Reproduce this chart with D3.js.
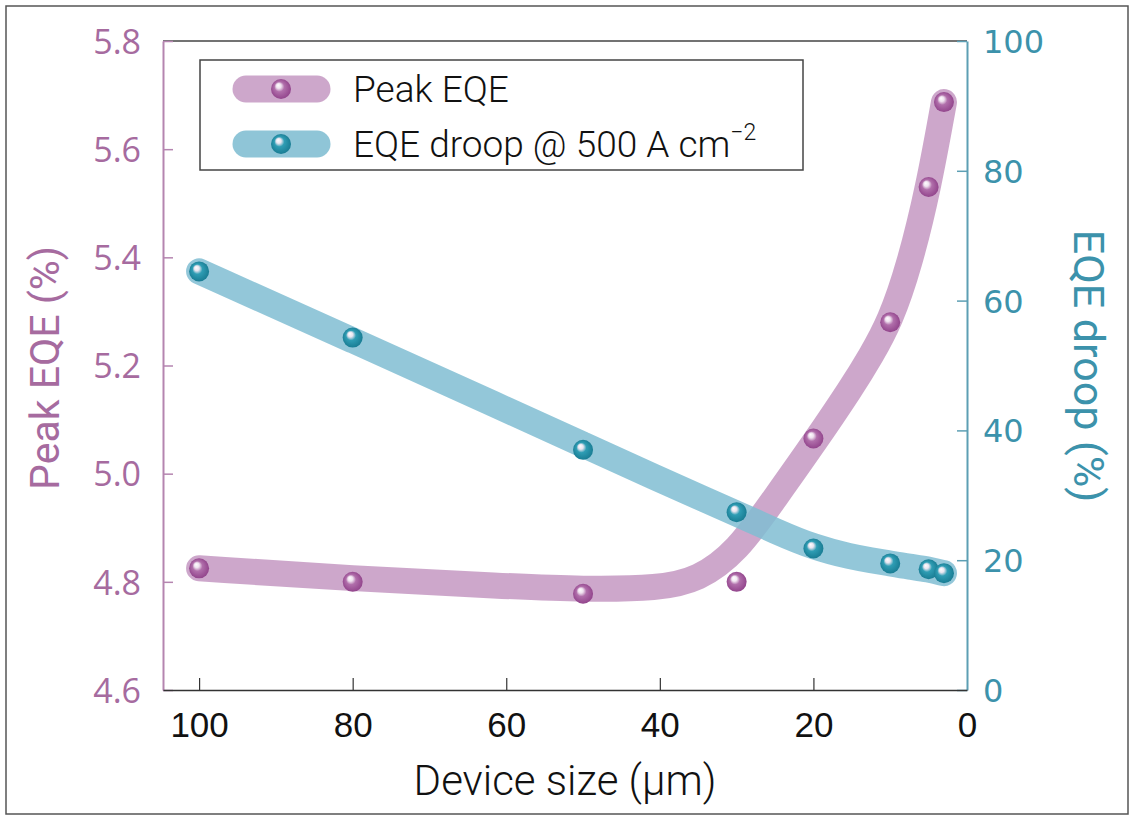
<!DOCTYPE html>
<html>
<head>
<meta charset="utf-8">
<script src="https://cdn.jsdelivr.net/npm/d3@7"></script>
<style>
  body { margin: 0; background: #fff; }
  svg { display: block; font-family: Roboto, "Liberation Sans", sans-serif; }
</style>
</head>
<body>
<svg id="chart"></svg>
<script>
const width = 1134
const height = 819

const marginTop = 41
const marginRight = 168
const marginLeft = 163
const marginBottom = 129

const purpleText = "#a66b9f"
const tealText = "#3c92ab"

// measured points
const sizes = [100, 80, 50, 30, 20, 10, 5, 3]
const peakEQE = [4.825, 4.80, 4.778, 4.80, 5.065, 5.28, 5.53, 5.687]
const eqeDroop = [64.5, 54.3, 37.0, 27.4, 21.8, 19.5, 18.6, 18.0]

// fitted guide bands
const fitSizes = [100, 80, 60, 50, 40, 35, 30, 25, 20, 15, 12.5, 10, 7.5, 5, 3]
const peakFit = [4.825, 4.806, 4.792, 4.786, 4.788, 4.804, 4.855, 4.955, 5.055, 5.16, 5.218, 5.282, 5.385, 5.53, 5.687]
const droopFit = [64.5, 53.9, 43.2, 37.8, 32.4, 29.8, 27.2, 24.5, 22.0, 20.5, 20.0, 19.5, 19.0, 18.6, 18.0]

const xTicks = [100, 80, 60, 40, 20, 0]
const leftTicks = [4.6, 4.8, 5.0, 5.2, 5.4, 5.6, 5.8]
const rightTicks = [0, 20, 40, 60, 80, 100]

const svg = d3.select("#chart")
  .attr("width", width)
  .attr("height", height)

// outer frame
svg.append("rect")
  .attr("x", 6).attr("y", 6)
  .attr("width", 1122).attr("height", 808)
  .attr("fill", "none")
  .attr("stroke", "#555")
  .attr("stroke-width", 1.5)

const defs = svg.append("defs")
function ballGradient(id, base, dark) {
  const g = defs.append("radialGradient")
    .attr("id", id)
    .attr("cx", "50%").attr("cy", "50%").attr("r", "55%")
    .attr("fx", "35%").attr("fy", "30%")
  g.append("stop").attr("offset", "0%").attr("stop-color", "#ffffff")
  g.append("stop").attr("offset", "22%").attr("stop-color", "#f3e9f3").attr("stop-opacity", 0.9)
  g.append("stop").attr("offset", "45%").attr("stop-color", base)
  g.append("stop").attr("offset", "100%").attr("stop-color", dark)
}
ballGradient("ballPurple", "#b16fab", "#8e3f88")
ballGradient("ballTeal", "#2f9db4", "#16788f")

const x = d3.scaleLinear()
  .domain([104.7, 0])
  .range([marginLeft, width - marginRight + 1])

const yLeft = d3.scaleLinear()
  .domain([4.6, 5.8])
  .range([height - marginBottom, marginTop])

const yRight = d3.scaleLinear()
  .domain([0, 100])
  .range([height - marginBottom, marginTop])

// top frame line
svg.append("line")
  .attr("x1", marginLeft).attr("x2", width - marginRight + 1)
  .attr("y1", marginTop).attr("y2", marginTop)
  .attr("stroke", "#444")
  .attr("stroke-width", 1.5)

// left axis
const leftAxis = svg.append("g")
  .attr("transform", `translate(${marginLeft},0)`)
  .call(d3.axisLeft(yLeft).tickValues(leftTicks).tickFormat(d3.format(".1f")).tickSize(-10).tickSizeOuter(0).tickPadding(22))
leftAxis.select(".domain").attr("stroke", "#b585b0").attr("stroke-width", 2)
leftAxis.selectAll(".tick line").attr("stroke", "#b585b0").attr("stroke-width", 1.5)
leftAxis.selectAll(".tick text").attr("fill", purpleText).attr("font-size", 34)
  .attr("font-family", "'Open Sans', sans-serif").attr("dy", "0.36em")

// right axis
const rightAxis = svg.append("g")
  .attr("transform", `translate(${width - marginRight + 1},0)`)
  .call(d3.axisRight(yRight).tickValues(rightTicks).tickSize(-10).tickSizeOuter(0).tickPadding(16))
rightAxis.select(".domain").attr("stroke", "#5d9fb4").attr("stroke-width", 2)
rightAxis.selectAll(".tick line").attr("stroke", "#5d9fb4").attr("stroke-width", 1.5)
rightAxis.selectAll(".tick text").attr("fill", tealText).attr("font-size", 32)
  .attr("font-family", "'DejaVu Sans', sans-serif").attr("dy", "0.36em")

// bottom axis
const bottomAxis = svg.append("g")
  .attr("transform", `translate(0,${height - marginBottom})`)
  .call(d3.axisBottom(x).tickValues(xTicks).tickSize(-12).tickSizeOuter(0).tickPadding(22))
bottomAxis.select(".domain").attr("stroke", "#333").attr("stroke-width", 1.5)
bottomAxis.selectAll(".tick line").attr("stroke", "#333").attr("stroke-width", 1.2)
  .filter(d => d === 0).remove()
bottomAxis.selectAll(".tick text").attr("fill", "#111").attr("font-size", 35)
  .attr("font-weight", 300).attr("dy", "0.71em")

// axis titles
svg.append("text")
  .attr("transform", `translate(59,368) rotate(-90)`)
  .attr("text-anchor", "middle")
  .attr("fill", purpleText)
  .attr("font-size", 41)
  .text("Peak EQE (%)")

svg.append("text")
  .attr("transform", `translate(1074,366) rotate(90)`)
  .attr("text-anchor", "middle")
  .attr("fill", tealText)
  .attr("font-size", 43)
  .text("EQE droop (%)")

svg.append("text")
  .attr("x", 565).attr("y", 795)
  .attr("text-anchor", "middle")
  .attr("fill", "#111")
  .attr("font-size", 42)
  .attr("font-weight", 300)
  .text("Device size (μm)")

// bands
const peakLine = d3.line()
  .x((d, i) => x(fitSizes[i]))
  .y(d => yLeft(d))
  .curve(d3.curveBasis)

const droopLine = d3.line()
  .x((d, i) => x(fitSizes[i]))
  .y(d => yRight(d))
  .curve(d3.curveBasis)

svg.append("path")
  .datum(peakFit)
  .attr("d", peakLine)
  .attr("fill", "none")
  .attr("stroke", "#c69bc4")
  .attr("stroke-opacity", 0.88)
  .attr("stroke-width", 26)
  .attr("stroke-linecap", "round")

svg.append("path")
  .datum(droopFit)
  .attr("d", droopLine)
  .attr("fill", "none")
  .attr("stroke", "#80bdd2")
  .attr("stroke-opacity", 0.85)
  .attr("stroke-width", 26)
  .attr("stroke-linecap", "round")

// balls
svg.selectAll(".peak")
  .data(sizes)
  .enter()
  .append("circle")
  .attr("class", "peak")
  .attr("cx", d => x(d))
  .attr("cy", (d, i) => yLeft(peakEQE[i]))
  .attr("r", 10)
  .attr("fill", "url(#ballPurple)")

svg.selectAll(".droop")
  .data(sizes)
  .enter()
  .append("circle")
  .attr("class", "droop")
  .attr("cx", d => x(d))
  .attr("cy", (d, i) => yRight(eqeDroop[i]))
  .attr("r", 10)
  .attr("fill", "url(#ballTeal)")

// legend
const legend = svg.append("g")
legend.append("rect")
  .attr("x", 200).attr("y", 60)
  .attr("width", 603).attr("height", 110)
  .attr("fill", "#fff")
  .attr("stroke", "#444")
  .attr("stroke-width", 1.5)

const legendItems = [
  { y: 89, band: "#c69bc4", ball: "url(#ballPurple)" },
  { y: 144, band: "#80bdd2", ball: "url(#ballTeal)" }
]
legendItems.forEach(item => {
  legend.append("line")
    .attr("x1", 246).attr("x2", 317)
    .attr("y1", item.y).attr("y2", item.y)
    .attr("stroke", item.band)
    .attr("stroke-opacity", 0.88)
    .attr("stroke-width", 27)
    .attr("stroke-linecap", "round")
  legend.append("circle")
    .attr("cx", 281).attr("cy", item.y)
    .attr("r", 10)
    .attr("fill", item.ball)
})

legend.append("text")
  .attr("x", 353).attr("y", 102)
  .attr("font-size", 37)
  .attr("font-weight", 300)
  .attr("fill", "#111")
  .text("Peak EQE")

const t2 = legend.append("text")
  .attr("x", 353).attr("y", 157)
  .attr("font-size", 37)
  .attr("font-weight", 300)
  .attr("fill", "#111")
t2.append("tspan").text("EQE droop @ 500 A cm")
t2.append("tspan").attr("dy", -17).attr("font-size", 23).text("−2")
</script>
</body>
</html>
